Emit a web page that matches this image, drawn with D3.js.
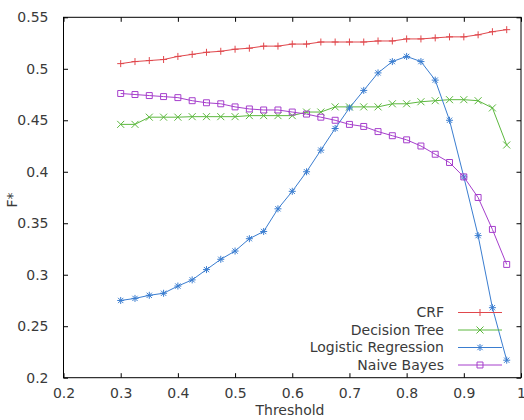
<!DOCTYPE html>
<html>
<head>
<meta charset="utf-8">
<script src="https://cdn.jsdelivr.net/npm/d3@7"></script>
<style>
  html, body { margin: 0; padding: 0; background: #fff; }
  svg { display: block; }
  text { font-family: "DejaVu Sans", sans-serif; fill: #3a3a3a; }
</style>
</head>
<body>
<svg id="chart" width="524" height="420"></svg>
<script>
// Threshold values (x) shared by all series
const thresholds = [0.3, 0.325, 0.35, 0.375, 0.4, 0.425, 0.45, 0.475, 0.5, 0.525,
  0.55, 0.575, 0.6, 0.625, 0.65, 0.675, 0.7, 0.725, 0.75, 0.775,
  0.8, 0.825, 0.85, 0.875, 0.9, 0.925, 0.95, 0.975];

const crf = [0.505, 0.507, 0.508, 0.509, 0.512, 0.514, 0.516, 0.517, 0.519, 0.520,
  0.522, 0.522, 0.524, 0.524, 0.526, 0.526, 0.526, 0.526, 0.527, 0.527,
  0.529, 0.529, 0.530, 0.531, 0.531, 0.533, 0.536, 0.538];

const decisionTree = [0.446, 0.446, 0.453, 0.453, 0.453, 0.4535, 0.4535, 0.4535, 0.4535, 0.4545,
  0.4545, 0.4545, 0.4545, 0.458, 0.458, 0.463, 0.463, 0.463, 0.463, 0.466,
  0.466, 0.468, 0.469, 0.470, 0.470, 0.469, 0.462, 0.426];

const logisticRegression = [0.275, 0.277, 0.280, 0.282, 0.289, 0.295, 0.305, 0.315, 0.323, 0.335,
  0.342, 0.364, 0.381, 0.400, 0.421, 0.442, 0.462, 0.479, 0.496, 0.507,
  0.512, 0.507, 0.489, 0.450, 0.395, 0.338, 0.268, 0.217];

const naiveBayes = [0.476, 0.475, 0.474, 0.473, 0.472, 0.469, 0.467, 0.466, 0.463, 0.461,
  0.460, 0.460, 0.458, 0.456, 0.453, 0.450, 0.446, 0.444, 0.439, 0.435,
  0.431, 0.425, 0.417, 0.409, 0.395, 0.375, 0.344, 0.310];

const seriesNames = ["CRF", "Decision Tree", "Logistic Regression", "Naive Bayes"];
const seriesValues = [crf, decisionTree, logisticRegression, naiveBayes];
const seriesColors = ["#e0474c", "#5cb83e", "#3a7dd0", "#a63fcc"];
const seriesMarkers = ["plus", "cross", "star", "square"];

const xTicks = [0.2, 0.3, 0.4, 0.5, 0.6, 0.7, 0.8, 0.9, 1];
const yTicks = [0.2, 0.25, 0.3, 0.35, 0.4, 0.45, 0.5, 0.55];

const svg = d3.select("#chart");
const plot = { left: 63.5, right: 521, top: 17.3, bottom: 377.7 };

const x = d3.scaleLinear().domain([0.2, 1]).range([plot.left, plot.right]);
const y = d3.scaleLinear().domain([0.2, 0.55]).range([plot.bottom, plot.top]);

const tickLen = 4.5;
const fmt = d => String(+d.toFixed(2));

// Axes: labels on bottom/left, inward ticks mirrored on top/right
const bottomAxis = d3.axisBottom(x).tickValues(xTicks).tickFormat(fmt).tickSizeInner(-tickLen).tickSizeOuter(0).tickPadding(10);
const topAxis = d3.axisTop(x).tickValues(xTicks).tickFormat("").tickSizeInner(-tickLen).tickSizeOuter(0);
const leftAxis = d3.axisLeft(y).tickValues(yTicks).tickFormat(fmt).tickSizeInner(-tickLen).tickSizeOuter(0).tickPadding(15);
const rightAxis = d3.axisRight(y).tickValues(yTicks).tickFormat("").tickSizeInner(-tickLen).tickSizeOuter(0);

function styleAxis(g) {
  g.select(".domain").remove();
  g.selectAll(".tick line").attr("stroke", "#000").attr("stroke-width", 1);
  g.selectAll(".tick text").style("font-size", "14px").attr("fill", "#3a3a3a");
}

svg.append("g").attr("transform", `translate(0,${plot.bottom})`).call(bottomAxis).call(styleAxis);
svg.append("g").attr("transform", `translate(0,${plot.top})`).call(topAxis).call(styleAxis);
svg.append("g").attr("transform", `translate(${plot.left},0)`).call(leftAxis).call(styleAxis);
svg.append("g").attr("transform", `translate(${plot.right},0)`).call(rightAxis).call(styleAxis);

// Marker shapes drawn as paths centred on (0,0)
function markerPath(kind, r) {
  switch (kind) {
    case "plus": return `M${-r},0H${r}M0,${-r}V${r}`;
    case "cross": return `M${-r},${-r}L${r},${r}M${-r},${r}L${r},${-r}`;
    case "star": return `M${-r},0H${r}M0,${-r}V${r}M${-r*0.75},${-r*0.75}L${r*0.75},${r*0.75}M${-r*0.75},${r*0.75}L${r*0.75},${-r*0.75}`;
    case "square": return `M${-r*0.85},${-r*0.85}H${r*0.85}V${r*0.85}H${-r*0.85}Z`;
  }
}

const line = d3.line().x(d => x(d[0])).y(d => y(d[1]));
const markerR = 3.5;

seriesValues.forEach((vals, i) => {
  const pts = thresholds.map((t, j) => [t, vals[j]]);
  const g = svg.append("g");
  g.append("path").datum(pts)
    .attr("d", line).attr("fill", "none")
    .attr("stroke", seriesColors[i]).attr("stroke-width", 1);
  g.selectAll("path.m").data(pts).join("path").attr("class", "m")
    .attr("transform", d => `translate(${x(d[0])},${y(d[1])})`)
    .attr("d", markerPath(seriesMarkers[i], markerR))
    .attr("fill", "none").attr("stroke", seriesColors[i]).attr("stroke-width", 1);
});

// Legend (bottom right inside the plot)
const legendRows = [312.5, 330, 347.5, 365];
seriesNames.forEach((name, i) => {
  const ly = legendRows[i];
  svg.append("text").attr("x", 444).attr("y", ly).attr("dy", "0.35em")
    .attr("text-anchor", "end").style("font-size", "14px").text(name);
  svg.append("line").attr("x1", 458).attr("x2", 502).attr("y1", ly).attr("y2", ly)
    .attr("stroke", seriesColors[i]).attr("stroke-width", 1);
  svg.append("path").attr("transform", `translate(480,${ly})`)
    .attr("d", markerPath(seriesMarkers[i], markerR))
    .attr("fill", "none").attr("stroke", seriesColors[i]).attr("stroke-width", 1);
});

// Plot border
svg.append("rect")
  .attr("x", plot.left).attr("y", plot.top)
  .attr("width", plot.right - plot.left).attr("height", plot.bottom - plot.top)
  .attr("fill", "none").attr("stroke", "#000").attr("stroke-width", 1);

// Axis titles
svg.append("text").attr("x", 290).attr("y", 415).attr("text-anchor", "middle")
  .style("font-size", "14px").text("Threshold");
svg.append("text").attr("transform", "translate(17,200) rotate(-90)")
  .attr("text-anchor", "middle").style("font-size", "14px").text("F*");
</script>
</body>
</html>
